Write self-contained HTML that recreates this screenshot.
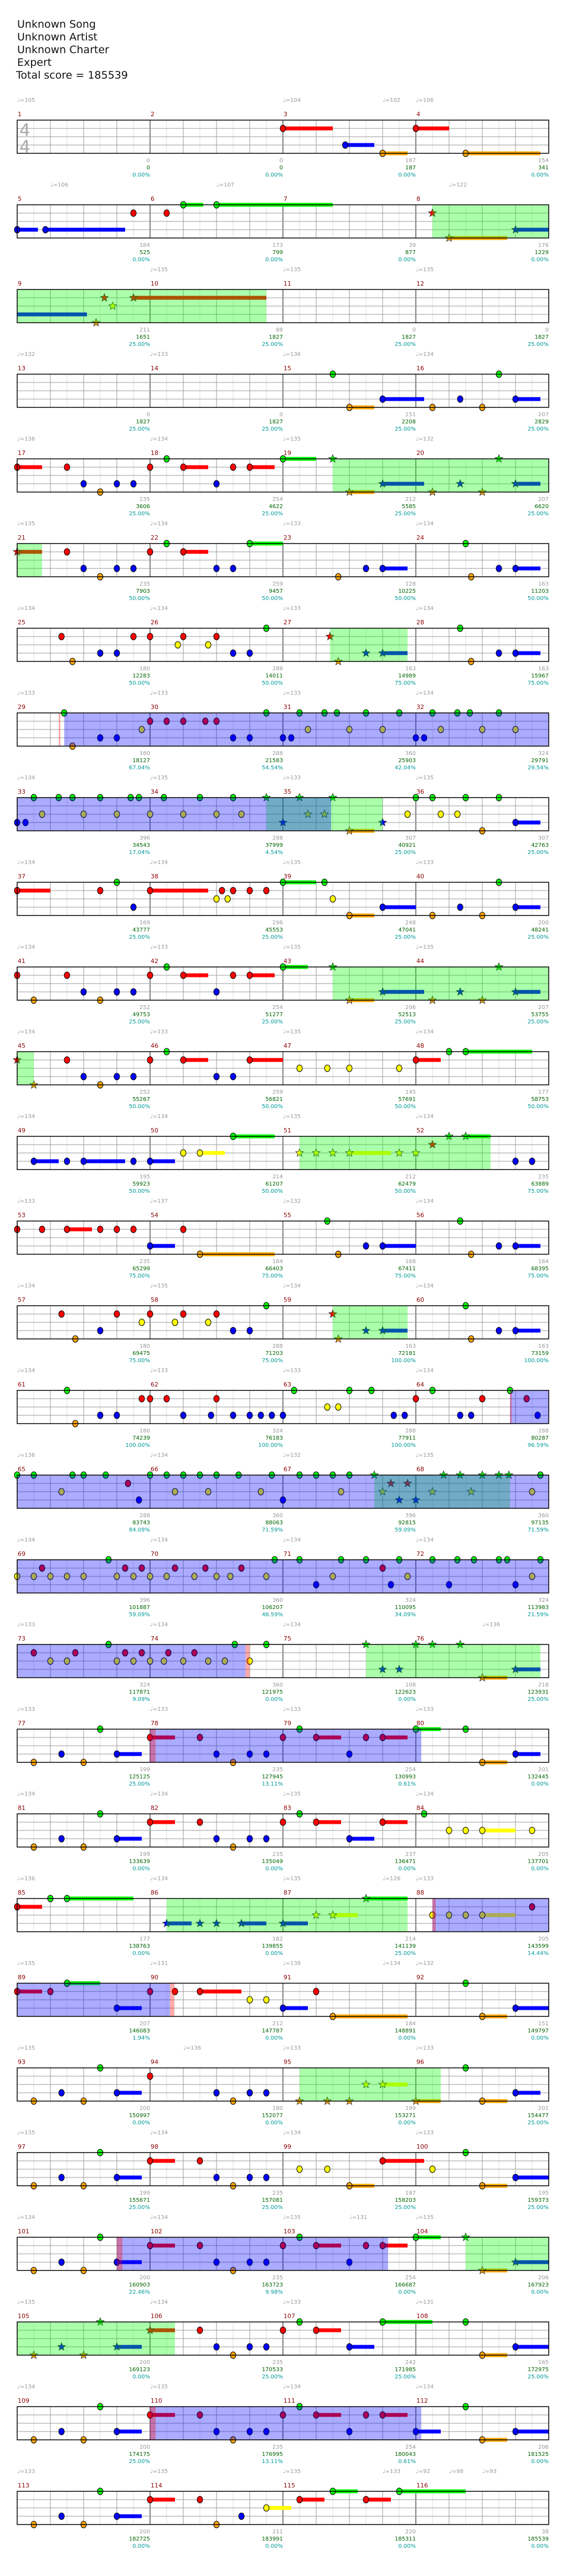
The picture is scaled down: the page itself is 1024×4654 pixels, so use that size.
<!DOCTYPE html>
<html><head><meta charset="utf-8">
<style>
html,body{margin:0;padding:0;background:#fff;}
#chart{display:block;}
</style></head>
<body>
<svg id="chart" width="1024" height="4654" xmlns="http://www.w3.org/2000/svg">
<rect x="0" y="0" width="1024" height="4654" fill="#fff"/>
<g font-family="'DejaVu Sans', 'Liberation Sans', sans-serif" font-size="19" fill="#111">
<text x="31" y="50">Unknown Song</text>
<text x="31" y="73">Unknown Artist</text>
<text x="31" y="96">Unknown Charter</text>
<text x="31" y="119">Expert</text>
<text x="29" y="142">Total score = 185539</text>
</g>
<g id="layer"></g>
</svg>
<script>
// ---- data ----
const measureGain = [0,0,187,154, 184,173,39,176, 211,88,0,0, 0,0,151,207, 235,254,212,207, 235,259,128,163, 180,288,163,163, 180,288,360,324, 396,288,307,307, 169,296,248,200, 252,254,206,207, 252,259,145,177, 195,214,212,235, 235,184,168,164, 180,288,163,163, 180,324,288,288, 288,360,396,360, 396,360,324,324, 324,360,108,218, 199,235,254,201, 199,235,237,205, 177,182,214,205, 207,212,184,151, 200,180,199,201, 199,235,187,195, 200,235,254,206, 200,235,242,165, 200,235,254,206, 200,211,220,38];
const measureTotal = [0,0,187,341, 525,799,877,1229, 1651,1827,1827,1827, 1827,1827,2208,2829, 3606,4622,5585,6620, 7903,9457,10225,11203, 12283,14011,14989,15967, 18127,21583,25903,29791, 34543,37999,40921,42763, 43777,45553,47041,48241, 49753,51277,52513,53755, 55267,56821,57691,58753, 59923,61207,62479,63889, 65299,66403,67411,68395, 69475,71203,72181,73159, 74239,76183,77911,80287, 83743,88063,92815,97135, 101887,106207,110095,113983, 117871,121975,122623,123931, 125125,127945,130993,132445, 133639,135049,136471,137701, 138763,139855,141139,143599, 146083,147787,148891,149797, 150997,152077,153271,154477, 155671,157081,158203,159373, 160903,163723,166687,167923, 169123,170533,171985,172975, 174175,176995,180043,181525, 182725,183991,185311,185539];
const measurePct = [0,0,0,0, 0,0,0,0, 25,25,25,25, 25,25,25,25, 25,25,25,25, 50,50,50,50, 50,50,75,75, 67.04,54.54,42.04,29.54, 17.04,4.54,25,25, 25,25,25,25, 25,25,25,25, 50,50,50,50, 50,50,50,75, 75,75,75,75, 75,75,100,100, 100,100,100,96.59, 84.09,71.59,59.09,71.59, 59.09,46.59,34.09,21.59, 9.09,0,0,25, 25,13.11,0.61,0, 0,0,0,0, 0,0,25,14.44, 1.94,0,0,0, 0,0,0,25, 25,25,25,25, 22.46,9.98,0,0, 0,25,25,25, 25,13.11,0.61,0, 0,0,0,0];
// tempo markers: [position in eighth notes from song start, bpm]
const tempoPos = [0,16,22,24, 34,44,58, 72,80,88, 96,104,112,120, 128,136,144,152, 160,168,176,184, 192,200,208,216, 224,232,240,248, 256,264,272,280, 288,296,304,312, 320,328,336,344, 352,360,368,376, 384,392,400,408, 416,424,432,440, 448,456,464,472, 480,488,496,504, 512,520,528,536, 544,552,560,568, 576,584,592,604, 608,616,624,632, 640,648,656,664, 672,680,688,694,696, 704,712,720,726,728, 736,746,752,760, 768,776,784,792, 800,808,816,820,824, 832,840,848,856, 864,872,880,888, 896,904,912,918,920,922,924];
const tempoBpm = [105,104,102,106, 106,107,122, 135,135,135, 132,133,136,134, 136,134,135,132, 135,134,133,134, 134,134,133,134, 133,133,133,134, 134,135,133,135, 134,134,135,133, 134,133,135,135, 134,133,135,134, 134,134,135,134, 133,137,132,134, 134,135,134,134, 134,133,133,134, 136,134,132,135, 134,134,134,134, 133,134,134,136, 133,133,133,133, 134,134,135,134, 136,134,135,126,133, 135,131,138,134,132, 135,136,133,133, 135,134,134,133, 134,134,135,131,135, 135,134,133,131, 134,135,134,134, 133,135,135,133,92,98,93];
// star power phrases [start, end] in eighths
const starPower = [[57,79],[147,161.5],[210.83,215.5],[271,278],[339,353],[401,412.5],[467,471.5],[533.5,541.67],[597,607.5],[681,695.5],[753,761.5],[827,841.5]];
// solo sections [start, end] in eighths
const soloSections = [[226.83,274.9],[509.67,589.75],[616,632.33],[697,713.2],[806,822.33],[872,888.33]];
// solo boundary markers [position, width px]
const soloMarks = [[226.5,3],[509.67,3],[589.75,7],[616,10],[697,6],[713.2,8],[806,10],[872,10]];
// notes per row (4 measures): [eighth within row, lane 0-4, sustain eighths, head(0=none)]
const rowNotes = [
[[16,1,3],[19.75,3,1.75],[22,4,1.5],[24,1,2],[27,4,4.5]],
[[0,3,1.25],[1.7,3,4.8],[7,1,0],[9,1,0],[10,0,1.2],[12,0,7],[25,1,0],[26,4,3.5],[30,3,2]],
[[0,3,4.2,0],[4.75,4,0],[5.25,1,0],[5.75,2,0],[7,1,8]],
[[19,0,0],[20,4,1.5],[22,3,2.5],[25,4,0],[26.67,3,0],[28,4,0],[29,0,0],[30,3,1.5]],
[[0,1,1.5],[3,1,0],[4,3,0],[5,4,0],[6,3,0],[7,3,0],[8,1,0],[9,0,0],[10,1,1.5],[12,3,0],[13,1,0],[14,1,1.5],[16,0,2],[19,0,0],[20,4,1.5],[22,3,2.5],[25,4,0],[26.67,3,0],[28,4,0],[29,0,0],[30,3,1.5]],
[[0,1,1.5],[3,1,0],[4,3,0],[5,4,0],[6,3,0],[7,3,0],[8,1,0],[9,0,0],[10,1,1.5],[12,3,0],[13,3,0],[14,0,2],[19.33,4,0],[21,3,0],[22,3,1.5],[27,0,0],[27.33,4,0],[29,3,0],[30,3,1.5]],
[[2.67,1,0],[3.33,4,0],[5,3,0],[6,3,0],[7,1,0],[8,1,0],[9.67,2,0],[10,1,0],[11.5,2,0],[12,1,0],[13,3,0],[14,3,0],[15,0,0],[18.83,1,0],[19.33,4,0],[21,3,0],[22,3,1.5],[26.67,0,0],[27.33,4,0],[29,3,0],[30,3,1.5]],
[[2.83,0,0],[3.33,4,0],[5,3,0],[6,3,0],[7.5,2,0],[8,1,0],[9,1,0],[10,1,0],[11.33,1,0],[12,1,0],[13,3,0],[14,3,0],[15,0,0],[16,3,0],[16.5,3,0],[17,0,0],[17.5,2,0],[18.5,0,0],[19.25,0,0],[20,2,0],[21,0,0],[22,2,0],[23,0,0],[24,3,0],[24.5,3,0],[25,0,0],[25.5,2,0],[26.5,0,0],[27.25,0,0],[28,2,0],[29,0,0],[30,2,0]],
[[0,3,0],[0.5,3,0],[1,0,0],[1.5,2,0],[2.5,0,0],[3.33,0,0],[4,2,0],[5,0,0],[6,2,0],[6.83,0,0],[7.33,0,0],[8,2,0],[8.83,0,0],[10,2,0],[11,0,0],[12,2,0],[13,0,0],[13.5,2,0],[15,0,0],[16,3,0],[17,0,0],[17.5,2,0],[18.5,2,0],[19,0,0],[20,4,1.5],[22,3,0],[23.5,2,0],[24,0,0],[25,0,0],[25.5,2,0],[26.5,2,0],[27,0,0],[28,4,0],[29,0,0],[30,3,1.5]],
[[0,1,2],[5,1,0],[6,0,0],[7,3,0],[8,1,3.5],[12,2,0],[12.33,1,0],[12.67,2,0],[13,1,0],[14,1,0],[15,1,0],[16,0,2],[18.5,0,0],[19,2,0],[20,4,1.5],[22,3,2],[25,4,0],[26.67,3,0],[28,4,0],[29,0,0],[30,3,1.5]],
[[0,1,0],[1,4,0],[3,1,0],[4,3,0],[5,4,0],[6,3,0],[7,3,0],[8,1,0],[9,0,0],[10,1,1.5],[12,3,0],[13,1,0],[14,1,1.5],[16,0,1.5],[19,0,0],[20,4,1.5],[22,3,2.5],[25,4,0],[26.67,3,0],[28,4,0],[29,0,0],[30,3,1.5]],
[[0,1,0],[1,4,0],[3,1,0],[4,3,0],[5,4,0],[6,3,0],[7,3,0],[8,1,0],[9,0,0],[10,1,1.5],[12,3,0],[13,3,0],[14,1,2],[17,2,0],[18.67,2,0],[20,2,0],[23,2,0],[24,1,1.5],[26,0,0],[27,0,4]],
[[1,3,1.5],[3,3,0],[4,3,2.5],[7,3,0],[8,3,1.5],[10,2,0],[11,2,1.5],[13,0,2.5],[17,2,0],[18,2,0],[19,2,0],[20,2,2.5],[23,2,0],[24,2,0],[25,1,0],[26,0,0],[27,0,1.5],[30,3,0],[31,3,0]],
[[0,1,0],[1.5,1,0],[3,1,1.5],[5,1,0],[6,1,0],[7,1,0],[8,3,1.5],[10,1,0],[11,4,4.5],[18.67,0,0],[19.33,4,0],[21,3,0],[22,3,2],[26.67,0,0],[27.33,4,0],[29,3,0],[30,3,1.5]],
[[2.67,1,0],[3.5,4,0],[5,3,0],[6,1,0],[7.5,2,0],[8,1,0],[9.5,2,0],[10,1,0],[11.5,2,0],[12,1,0],[13,3,0],[14,3,0],[15,0,0],[19,1,0],[19.33,4,0],[21,3,0],[22,3,1.5],[27,0,0],[27.33,4,0],[29,3,0],[30,3,1.5]],
[[3,0,0],[3.5,4,0],[5,3,0],[6,3,0],[7.5,1,0],[8,1,0],[9,1,0],[10,3,0],[11.67,3,0],[12,1,0],[13,3,0],[14,3,0],[14.67,3,0],[15.33,3,0],[16,3,0],[16.67,0,0],[18.67,2,0],[19.33,2,0],[20,0,0],[21.33,0,0],[22.67,3,0],[23.33,3,0],[24,1,0],[25,0,0],[26.67,3,0],[27.33,3,0],[28,1,0],[29.67,0,0],[30.67,1,0],[31.33,3,0]],
[[0,0,0],[1,0,0],[2.67,2,0],[3.33,0,0],[4,0,0],[5.33,0,0],[6.67,1,0],[7.33,3,0],[8,0,0],[9,0,0],[9.5,2,0],[10,0,0],[11,0,0],[11.5,2,0],[12,0,0],[13.33,0,0],[14.67,2,0],[15.33,0,0],[16,3,0],[17,0,0],[18,0,0],[19,0,0],[19.5,2,0],[20,0,0],[21.5,0,0],[22,2,0],[22.5,1,0],[23,3,0],[23.5,1,0],[24,3,0],[25,2,0],[25.67,0,0],[26.67,0,0],[27.33,2,0],[28,0,0],[29,0,0],[29.6,0,0],[31,2,0],[31.5,0,0]],
[[0,2,0],[1,2,0],[1.5,1,0],[2,2,0],[3,2,0],[4,2,0],[5.5,0,0],[6,2,0],[6.5,1,0],[7,2,0],[7.5,1,0],[8,2,0],[9,2,0],[9.5,1,0],[10.67,2,0],[11.33,1,0],[12,2,0],[12.83,2,0],[13.5,1,0],[15,2,0],[15.5,0,0],[17,0,0],[18,3,0],[19,2,0],[19.5,0,0],[21,0,0],[22,1,0],[22.5,3,0],[23,0,0],[23.5,2,0],[25,0,0],[26,3,0],[26.5,0,0],[27.5,0,0],[29,0,0],[29.5,0,0],[30,3,0],[31,2,0],[31.5,0,0]],
[[1,1,0],[2,2,0],[3,2,0],[3.5,1,0],[5.5,0,0],[6,2,0],[6.5,1,0],[7,2,0],[7.5,1,0],[8,2,0],[8.83,2,0],[9.1,1,0],[10,2,0],[10.67,1,0],[11.5,2,0],[12.5,2,0],[13.1,0,0],[14,2,0],[15,0,0],[21,0,0],[22,3,0],[23,3,0],[24,0,0],[25,0,0],[26.67,0,0],[28,4,1.5],[30,3,1.5]],
[[1,4,0],[2.67,3,0],[4,4,0],[5,0,0],[6,3,1.5],[8,1,1.5],[11,1,0],[12,3,0],[13,4,0],[14,3,0],[15,3,0],[16,1,0],[17,0,0],[18,1,1.5],[20,3,0],[21,1,0],[22,1,1.5],[24,0,1.5],[27,0,0],[28,4,1.5],[30,3,1.5]],
[[1,4,0],[2.67,3,0],[4,4,0],[5,0,0],[6,3,1.5],[8,1,1.5],[11,1,0],[12,3,0],[13,4,0],[14,3,0],[15,3,0],[16,1,0],[17,0,0],[18,1,1.5],[20,3,1.5],[22,1,1.5],[24.5,0,0],[26,2,0],[27,2,0],[28,2,2],[31,2,0]],
[[0,1,1.5],[2,0,0],[3,0,4],[9,3,1.5],[11,3,0],[12,3,0],[13.5,3,1.5],[16,3,1.5],[18,2,0],[19,2,1.5],[21,0,2.5],[25,2,0],[26,2,0],[27,2,0],[28,2,2],[31,1,0]],
[[0,1,1.5],[2,1,0],[3,0,2],[6,3,1.5],[8,1,0],[9.5,1,0],[11,1,2.5],[14,2,0],[15,2,0],[16,3,1.5],[18,1,0],[19,4,4.5],[27,0,0],[28,4,1.5],[30,3,2]],
[[1,4,0],[2.67,3,0],[4,4,0],[5,0,0],[6,3,1.5],[8,1,0],[12,3,0],[13,4,0],[14,3,0],[15,3,0],[17,4,0],[18.67,4,0],[20,4,0],[21,2,0],[22,2,1.5],[24,4,1.5],[27,0,0],[28,4,1.5],[30,3,1.5]],
[[1,4,0],[2.67,3,0],[4,4,0],[5,0,0],[6,3,1.5],[8,1,1.5],[11,1,0],[12,3,0],[13,4,0],[14,3,0],[15,3,0],[17,2,0],[18.67,2,0],[20,4,1.5],[22,1,2.5],[25,2,0],[27,0,0],[28,4,1.5],[30,3,2]],
[[1,4,0],[2.67,3,0],[4,4,0],[5,0,0],[6,3,1.5],[8,1,1.5],[11,1,0],[12,3,0],[13,4,0],[14,3,0],[15,3,0],[16,1,0],[17,0,0],[18,1,1.5],[20,3,0],[21,1,0],[22,1,1.5],[24,0,1.5],[27,0,0],[28,4,1.5],[30,3,2]],
[[1,4,0],[2.67,3,0],[4,4,0],[5,0,0],[6,3,1.5],[8,1,1.5],[11,1,0],[12,3,0],[13,4,0],[14,3,0],[15,3,0],[16,1,0],[17,0,0],[18,1,1.5],[20,3,1.5],[22,0,3],[27,0,0],[28,4,1.5],[30,3,2]],
[[1,4,0],[2.67,3,0],[4,4,0],[5,0,0],[6,3,1.5],[8,1,1.5],[11,1,0],[12,3,0],[13,4,0],[14,3,0],[15,3,0],[16,1,0],[17,0,0],[18,1,1.5],[20,3,0],[21,1,0],[22,1,1.5],[24,3,1.5],[27,0,0],[28,4,1.5],[30,3,2]],
[[1,4,0],[2.67,3,0],[4,4,0],[5,0,0],[6,3,1.5],[8,1,1.5],[11,1,0],[12,4,0],[13.5,3,0],[15,2,1.5],[17,1,1.5],[19,0,1.5],[21,1,1.5],[23,0,4]]
];
// ---- rendering ----
const NS = 'http://www.w3.org/2000/svg';
const layer = document.getElementById('layer');
const X0 = 31, EIGHTH = 30, TOP0 = 217, ROWH = 153, LANE = 15;
const laneColors = ['#00ff00','#ff0000','#ffff00','#0000ff','#ffa500'];
const laneNames = ['green','red','yellow','blue','orange'];
function xOf(t){ return X0 + t*EIGHTH; }
function rowTop(r){ return TOP0 + r*ROWH; }
function mk(tag, attrs, parent){
  const e = document.createElementNS(NS, tag);
  for (const k in attrs) e.setAttribute(k, attrs[k]);
  (parent||layer).appendChild(e);
  return e;
}
function inRanges(g, ranges){ return ranges.some(r => g >= r[0]-0.01 && g <= r[1]+0.01); }
function starPts(cx, cy, R, r){
  let p=[];
  for (let i=0;i<10;i++){ const a=-Math.PI/2+i*Math.PI/5; const rr=i%2?r:R; p.push((cx+rr*Math.cos(a)).toFixed(1)+','+(cy+rr*Math.sin(a)).toFixed(1)); }
  return p.join(' ');
}
const FONT = "'DejaVu Sans', 'Liberation Sans', sans-serif";
const ROWS = 29;
for (let r=0; r<ROWS; r++){
  const Y = rowTop(r), rs = r*32;
  const g = mk('g', {});
  
  
  // grid verticals
  for (let i=1;i<32;i++){
    const col = i%8===0 ? '#000' : (i%2===0 ? '#999' : '#ddd');
    const ln = mk('line', {x1:xOf(i), x2:xOf(i), y1:Y, y2:Y+60, stroke:col, 'stroke-width':1}, g);
    
    
  }
  for (let l=1;l<4;l++){
    const ln = mk('line', {x1:X0, x2:xOf(32), y1:Y+l*LANE, y2:Y+l*LANE, stroke:'#999', 'stroke-width':1}, g);
    
    
  }
  // time signature
  if (r===0){
    for (const yy of [Y+29, Y+59]){
      const ts = mk('text', {x:35, y:yy, fill:'#aaa', 'font-size':31, 'font-family':FONT}, g);
      ts.textContent = '4';
      
      
    }
  }
  // sustains
  const notes = rowNotes[r];
  for (const n of notes){
    if (n[2] > 0){
      const sb = mk('rect', {x:xOf(n[0]), y:Y+n[1]*LANE-3.5, width:n[2]*EIGHTH, height:7, fill:laneColors[n[1]]}, g);
      
      
    }
  }
  // note heads
  for (const n of notes){
    if (n.length > 3 && n[3] === 0) continue;
    const cx = xOf(n[0]), cy = Y + n[1]*LANE;
    let el;
    if (inRanges(rs + n[0], starPower)){
      el = mk('polygon', {points:starPts(cx, cy, 7.5, 3.2), fill:laneColors[n[1]], stroke:'#222', 'stroke-width':0.8}, g);
      
    } else {
      el = mk('ellipse', {cx:cx, cy:cy, rx:5, ry:6, fill:laneColors[n[1]], stroke:'#000', 'stroke-width':1}, g);
      
    }
    
  }
  // section overlays
  const a = rs, b = rs + 32;
  for (const s of starPower){
    const s0 = Math.max(s[0], a), s1 = Math.min(s[1], b);
    if (s1 > s0){
      const o = mk('rect', {x:xOf(s0-rs), y:Y, width:(s1-s0)*EIGHTH, height:60, fill:'#00ff00', 'fill-opacity':0.33}, g);
      
      
    }
  }
  for (const s of soloSections){
    const s0 = Math.max(s[0], a), s1 = Math.min(s[1], b);
    if (s1 > s0){
      const o = mk('rect', {x:xOf(s0-rs), y:Y, width:(s1-s0)*EIGHTH, height:60, fill:'#0000ff', 'fill-opacity':0.33}, g);
      
      
    }
  }
  for (const m of soloMarks){
    if (m[0] >= a && m[0] < b){
      const o = mk('rect', {x:xOf(m[0]-rs), y:Y, width:m[1], height:60, fill:'#ff0000', 'fill-opacity':0.33}, g);
      
      
    }
  }
  // border
  const bd = mk('rect', {x:X0, y:Y, width:960, height:60, fill:'none', stroke:'#000', 'stroke-width':1.5}, g);
  
  
  // measure labels & stats
  for (let c=0;c<4;c++){
    const m = r*4 + c;
    const mx = X0 + c*240;
    const mn = mk('text', {x:mx+1, y:Y-7, fill:'#8b0000', 'font-size':11, 'font-family':FONT}, g);
    mn.textContent = String(m+1);
    
    
    const ex = mx + 240;
    const t1 = mk('text', {x:ex, y:Y+76, fill:'#999', 'font-size':10, 'font-family':FONT, 'text-anchor':'end'}, g);
    t1.textContent = String(measureGain[m]);
    
    
    const t2 = mk('text', {x:ex, y:Y+89, fill:'#006400', 'font-size':10, 'font-family':FONT, 'text-anchor':'end'}, g);
    t2.textContent = String(measureTotal[m]);
    
    
    const t3 = mk('text', {x:ex, y:Y+102, fill:'#009999', 'font-size':10, 'font-family':FONT, 'text-anchor':'end'}, g);
    t3.textContent = measurePct[m].toFixed(2) + '%';
    
    
  }
}
// tempo markers
for (let i=0;i<tempoPos.length;i++){
  const p = tempoPos[i];
  const r = Math.floor(p/32);
  const Y = rowTop(r);
  const tx = xOf(p - r*32);
  const t = mk('text', {x:tx, y:Y-33, fill:'#999', 'font-size':10, 'font-family':FONT});
  t.textContent = '\u2669=' + tempoBpm[i];
  
  
}
</script>
</body></html>
